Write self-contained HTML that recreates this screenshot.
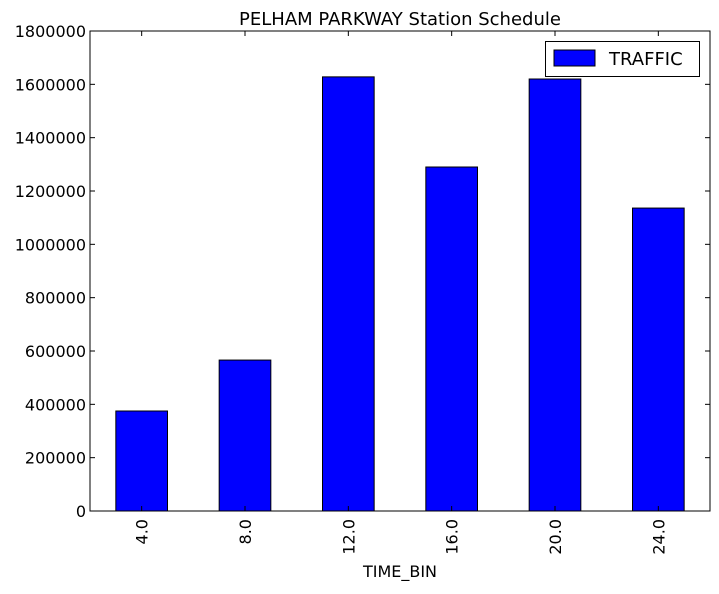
<!DOCTYPE html>
<html><head><meta charset="utf-8"><style>
body{margin:0;background:#fff;}
svg text{font-family:"DejaVu Sans","Liberation Sans",sans-serif;fill:#000;}
</style></head><body>
<svg id="chart" width="719" height="589" xmlns="http://www.w3.org/2000/svg">
<text x="400" y="25" font-size="18" text-anchor="middle">PELHAM PARKWAY Station Schedule</text>
<g id="bars"></g>
<rect x="90" y="31" width="620" height="480" fill="none" stroke="#000" stroke-width="1"/>
<g id="yaxis"></g>
<g id="xaxis"></g>
<text x="400" y="577" font-size="16" text-anchor="middle">TIME_BIN</text>
<g>
<rect x="545.5" y="41.5" width="154" height="35" fill="#fff" stroke="#000"/>
<rect x="554" y="50" width="41" height="16" fill="#0000ff" stroke="#000"/>
<text x="609" y="65" font-size="18">TRAFFIC</text>
</g>
</svg>
<script>
const categories = ["4.0","8.0","12.0","16.0","20.0","24.0"];
const traffic = [375000, 566000, 1628000, 1290000, 1620000, 1136000];
const yTicks = [0,200000,400000,600000,800000,1000000,1200000,1400000,1600000,1800000];
const L=90,R=710,T=31,B=511,YMAX=1800000;
const NS="http://www.w3.org/2000/svg";
const step=(R-L)/categories.length;
function xPos(i){return L+step*(i+0.5);}
function yPos(v){return B-(v/YMAX)*(B-T);}
function mk(tag,attrs,parent){const e=document.createElementNS(NS,tag);for(const k in attrs)e.setAttribute(k,attrs[k]);parent.appendChild(e);return e;}
const bars=document.getElementById('bars'),ya=document.getElementById('yaxis'),xa=document.getElementById('xaxis');
traffic.forEach((v,i)=>{
  const w=step*0.5;
  const r=mk('rect',{x:xPos(i)-w/2,y:yPos(v),width:w,height:B-yPos(v),fill:'#0000ff',stroke:'#000','stroke-width':1},bars);
  
  
});
yTicks.forEach(t=>{
  const y=yPos(t);
  const a=mk('line',{x1:L,x2:L+5,y1:y,y2:y,stroke:'#000'},ya);
  
  
  const b=mk('line',{x1:R,x2:R-5,y1:y,y2:y,stroke:'#000'},ya);
  
  
  const tx=mk('text',{x:L-4,y:y+6,'font-size':16,'text-anchor':'end'},ya);
  tx.textContent=t;
  
  
});
categories.forEach((c,i)=>{
  const x=xPos(i);
  const a=mk('line',{x1:x,x2:x,y1:B,y2:B-5,stroke:'#000'},xa);
  
  
  const b=mk('line',{x1:x,x2:x,y1:T,y2:T+5,stroke:'#000'},xa);
  
  
  const tx=mk('text',{x:0,y:0,'font-size':16,'text-anchor':'end',transform:`translate(${x+6},${B+8}) rotate(-90)`},xa);
  tx.textContent=c;
  
  
});
</script>
</body></html>
